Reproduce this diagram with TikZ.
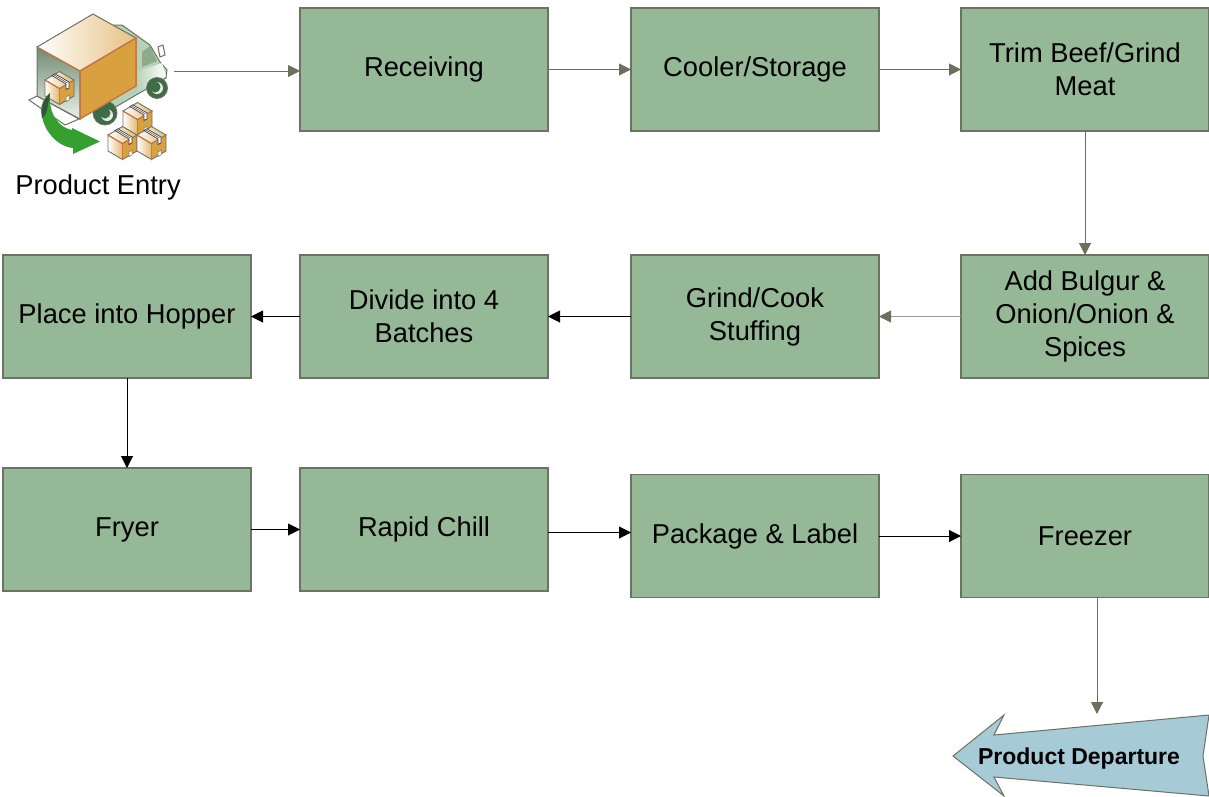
\documentclass[tikz,border=0pt]{standalone}
\usepackage{fontspec}
\setmainfont{Liberation Sans}
\usepackage{tikz}
\usetikzlibrary{positioning,arrows.meta}

\definecolor{boxgreen}{HTML}{95B897}
\definecolor{boxedge}{HTML}{6E7262}
\definecolor{tipgray}{HTML}{6B6F5B}
\definecolor{departblue}{HTML}{A6CAD6}
\definecolor{cartonorange}{HTML}{D9A03F}
\definecolor{cartonline}{HTML}{D9733A}
\definecolor{cabgreen}{HTML}{B5D2B8}
\definecolor{wheelgreen}{HTML}{3F6B47}
\definecolor{sweepgreen}{HTML}{35A02F}

\newcommand{\textdrop}[1]{\vspace*{#1}}

\tikzset{
    stepbox/.style={rectangle,draw=boxedge,fill=boxgreen,line width=1.3pt,outer sep=0pt,
        minimum width=248pt,minimum height=123pt,align=center,
        font=\fontsize{27.3}{33}\selectfont},
    grayline/.style={draw=tipgray,line width=1pt,-{Triangle[length=12pt,width=12pt,color=tipgray]}},
    blackline/.style={draw=black,line width=1pt,-{Triangle[length=12pt,width=12pt]}},
    carton/.pic={
        \path[draw=boxedge,line width=.9pt,left color=white,right color=cartonorange!75]
            (0,0)--(14.5,8.5)--(14.5,24.5)--(0,16)--cycle;
        \path[draw=boxedge,line width=.9pt,fill=cartonorange] (14.5,8.5)--(29,0)--(29,16)--(14.5,24.5)--cycle;
        \path[draw=boxedge,line width=.9pt,left color=white,right color=cartonorange!75]
            (0,0)--(14.5,-8.5)--(29,0)--(14.5,8.5)--cycle;
        \draw[cartonline,line width=.9pt] (0,0)--(14.5,8.5)--(29,0) (14.5,8.5)--(14.5,24.5);
        \path[draw=black!75,line width=.7pt,fill=white] (7,-4.5)--(10,-6.2)--(24,2)--(24,8)--(21,9.5)--(21,4)--cycle;
        \path[draw=black!75,line width=.5pt] (8.5,-5.3)--(22.5,3);
        \path[draw=boxedge,line width=.5pt,fill=white] (21,17)--(24,15.3)--(24,20)--(21,21.7)--cycle;
    }
}

\begin{document}
\begin{tikzpicture}[x=1pt,y=-1pt]
    \useasboundingbox (0,0) rectangle (1209,796);

    % truck
    \path[draw=boxedge,line width=1pt,fill=cabgreen] (110,25)--(122,25)--(150,45)--(160,62)--(167,70)--(166,78)--(155,84)--(100,116)--cycle;
    \path[left color=cabgreen,right color=white] (136,72)--(162,63)--(166,76)--(155,83)--(136,94)--cycle;
    \path[fill=boxgreen!80!boxedge] (142,52)--(150,46)--(157,61)--(142,67)--cycle;
    \path[draw=boxedge,line width=1pt,fill=white] (158,47)--(163,45)--(165,55)--(160,57)--cycle;
    \path[draw=boxedge,line width=.8pt,fill=wheelgreen] (157,88) circle (10.5);
    \path[fill=cabgreen!40] (157,88) circle (6);
    \path[fill=wheelgreen] (155,87) circle (5.5);
    \path[draw=boxedge,line width=.8pt,fill=wheelgreen] (105,113) circle (12);
    \path[fill=cabgreen!40] (107,115) circle (6);
    \path[fill=wheelgreen] (105,113) circle (5.5);
    \path[draw=boxedge,line width=1pt,fill=white] (29,100)--(37,96)--(79,119)--(65,125)--cycle;
    \path[draw=boxedge,line width=1pt,top color=boxgreen!75!black,bottom color=cabgreen!30] (37,47)--(80,71)--(80,119)--(37,96)--cycle;
    \path[draw=boxedge,line width=1pt,left color=white,right color=cartonorange!65] (37,47)--(93,14)--(136,38)--(80,71)--cycle;
    \path[draw=boxedge,line width=1pt,fill=cartonorange] (80,71)--(136,38)--(136,86)--(80,119)--cycle;
    \draw[cartonline,line width=1pt] (37,47)--(80,71)--(136,38)--(136,86)--(80,119)--(80,71);
    \pic at (45,80) {carton};
    \path[fill=sweepgreen] (50,93) .. controls (44,99) and (41,104) .. (41,110) .. controls (42,128) and (55,146) .. (73,148) -- (73,154) -- (100,141.5) -- (72,128) -- (72,130) .. controls (60,128) and (48,115) .. cycle;
    \path[fill=wheelgreen!80!black] (50,93) .. controls (44,99) and (41,104) .. (42,118) -- (46,114) .. controls (47,108) and (49,102) .. cycle;
    \pic at (123,111) {carton};
    \pic at (108,135) {carton};
    \pic at (137,135) {carton};
    \node (entrylabel) at (98,187) {\fontsize{27.3}{33}\selectfont Product Entry};
    \coordinate (truckfront) at (174,71);

    % boxes
    \node[stepbox] (receiving) at (424,69.5) {\textdrop{2pt}Receiving};
    \node[stepbox] (cooler)[right=83pt of receiving]{\textdrop{2pt}Cooler/Storage};
    \node[stepbox] (trim)[right=82pt of cooler]{Trim Beef/Grind\\Meat};
    \node[stepbox] (spices)[below=124pt of trim]{\textdrop{4pt}Add Bulgur \&\\Onion/Onion \&\\Spices};
    \node[stepbox] (stuffing)[left=82pt of spices]{\textdrop{6pt}Grind/Cook\\Stuffing};
    \node[stepbox] (batches)[left=83pt of stuffing]{Divide into 4\\Batches};
    \node[stepbox] (hopper)[left=49pt of batches]{\textdrop{4pt}Place into Hopper};
    \node[stepbox] (fryer)[below=90pt of hopper]{\textdrop{8pt}Fryer};
    \node[stepbox] (chill)[right=49pt of fryer]{\textdrop{6pt}Rapid Chill};
    \node[stepbox] (package)[right=83pt of chill,yshift=-6.5pt]{\textdrop{6pt}Package \& Label};
    \node[stepbox] (freezer)[right=82pt of package]{Freezer};

    % departure arrow
    \path[draw=boxedge,line width=1pt,fill=departblue] (953,756)--(1004,715)--(994,735)--(1209,715)--(1203,756)--(1209,796)--(994,777)--(1004,796)--cycle;
    \node[font=\fontsize{23}{28}\selectfont\bfseries] (departure) at (1079,759) {Product Departure};
    \coordinate (departtop) at (1097,714);

    % connectors
    \draw[grayline] (truckfront) -- (receiving.west|-truckfront);
    \draw[grayline] (receiving) -- (cooler);
    \draw[grayline] (cooler) -- (trim);
    \draw[grayline] (trim) -- (spices);
    \draw[grayline,draw=tipgray!70] (spices) -- (stuffing);
    \draw[blackline] (stuffing) -- (batches);
    \draw[blackline] (batches) -- (hopper);
    \draw[blackline] (hopper) -- (fryer);
    \draw[blackline] (fryer) -- (chill);
    \draw[blackline] ([yshift=-3pt]chill.east) -- ([yshift=3.5pt]package.west);
    \draw[blackline] (package) -- (freezer);
    \draw[grayline] (freezer.south-|departtop) -- (departtop);
\end{tikzpicture}
\end{document}
